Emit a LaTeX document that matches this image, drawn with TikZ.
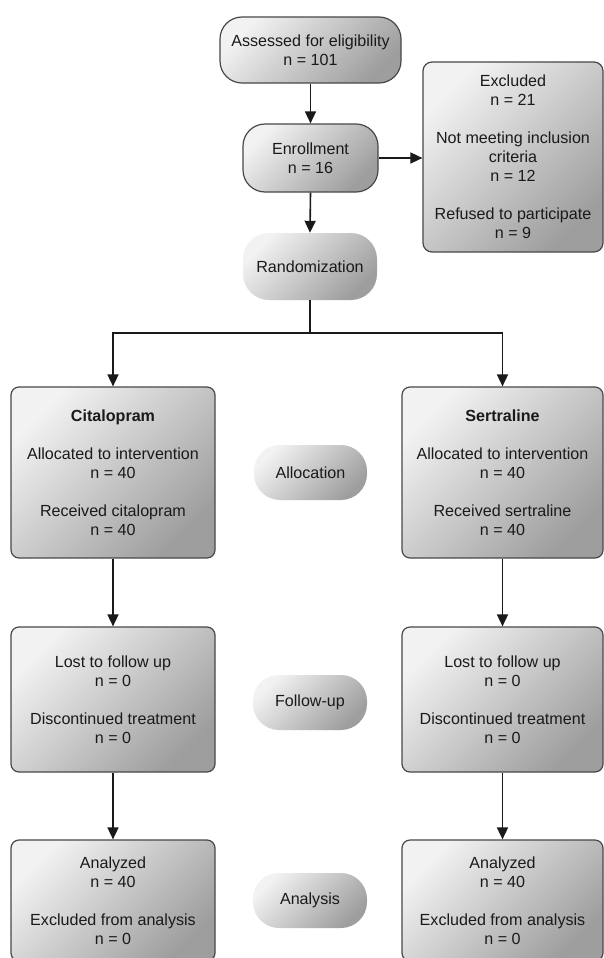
\documentclass[tikz,border=0pt]{standalone}
\usepackage{fontspec}
\setmainfont{Liberation Sans}
\usetikzlibrary{arrows.meta,positioning}
\definecolor{shlight}{HTML}{F2F2F2}
\definecolor{shdark}{HTML}{9E9E9E}
\definecolor{edge}{HTML}{484848}
\definecolor{ink}{HTML}{1A1A1A}
\tikzset{
  shadedfill/.style={top color=shlight, bottom color=shdark, shading angle=45},
  boxnode/.style={shadedfill, draw=edge, line width=1.2pt, rounded corners=8pt,
    align=center, inner sep=0pt, text=ink,
    font=\fontsize{16.1}{19}\selectfont},
  pillbox/.style={shadedfill, draw=edge, line width=1.2pt, rounded corners=22pt,
    align=center, inner sep=0pt, text=ink,
    font=\fontsize{16.1}{19}\selectfont},
  stagepill/.style={shadedfill, draw=none, rounded corners=26pt,
    align=center, inner sep=0pt, text=ink,
    font=\fontsize{16.1}{19}\selectfont},
  arr/.style={draw=ink, line width=1.6pt, -{Triangle[length=12pt,width=11pt]}},
  ln/.style={draw=ink, line width=1.6pt}
}
\begin{document}
\begin{tikzpicture}[x=1pt,y=-1pt]
\clip (0,0) rectangle (604,958);
\fill[white] (0,0) rectangle (604,958);

\node[pillbox, minimum width=181pt, minimum height=66pt] (assess) at (310.5,50) {Assessed for eligibility\\n = 101};
\node[pillbox, minimum width=135pt, minimum height=68pt] (enroll) at (310.5,158) {Enrollment\\n = 16};
\node[boxnode, minimum width=180pt, minimum height=190pt, rounded corners=9pt] (excl) at (513,157)
  {Excluded\\n = 21\\[19pt]Not meeting inclusion\\criteria\\n = 12\\[19pt]Refused to participate\\n = 9};
\node[stagepill, minimum width=134pt, minimum height=67pt] (rand) at (310,266.5) {Randomization};

\coordinate (split) at (310,333);

\node[boxnode, minimum width=204pt, minimum height=171pt] (cit) at (113,472.5)
  {\textbf{Citalopram}\\[19pt]Allocated to intervention\\n = 40\\[19pt]Received citalopram\\n = 40};
\node[boxnode, minimum width=201pt, minimum height=171pt] (sert) at (502.5,472.5)
  {\textbf{Sertraline}\\[19pt]Allocated to intervention\\n = 40\\[19pt]Received sertraline\\n = 40};
\node[stagepill, minimum width=113pt, minimum height=55pt] (alloc) at (310.5,472.5) {Allocation};

\node[boxnode, minimum width=204pt, minimum height=145pt] (fucit) at (113,699.5)
  {Lost to follow up\\n = 0\\[19pt]Discontinued treatment\\n = 0};
\node[boxnode, minimum width=201pt, minimum height=145pt] (fusert) at (502.5,699.5)
  {Lost to follow up\\n = 0\\[19pt]Discontinued treatment\\n = 0};
\node[stagepill, minimum width=114pt, minimum height=55pt] (follow) at (310,702.5) {Follow-up};

\node[boxnode, minimum width=204pt, minimum height=121pt] (ancit) at (113,900.5)
  {Analyzed\\n = 40\\[19pt]Excluded from analysis\\n = 0};
\node[boxnode, minimum width=201pt, minimum height=121pt] (ansert) at (502.5,900.5)
  {Analyzed\\n = 40\\[19pt]Excluded from analysis\\n = 0};
\node[stagepill, minimum width=114pt, minimum height=55pt] (analysis) at (310,900.5) {Analysis};

\draw[arr] (assess.south) -- (enroll.north);
\draw[arr] (enroll.east) -- (enroll.east -| excl.west);
\draw[arr] (enroll.south) -- (rand.north);
\draw[ln] (rand.south) -- (split);
\draw[arr] (split) -| (cit.north);
\draw[arr] (split) -| (sert.north);
\draw[arr] (cit.south) -- (fucit.north);
\draw[arr] (sert.south) -- (fusert.north);
\draw[arr] (fucit.south) -- (ancit.north);
\draw[arr] (fusert.south) -- (ansert.north);
\end{tikzpicture}
\end{document}
